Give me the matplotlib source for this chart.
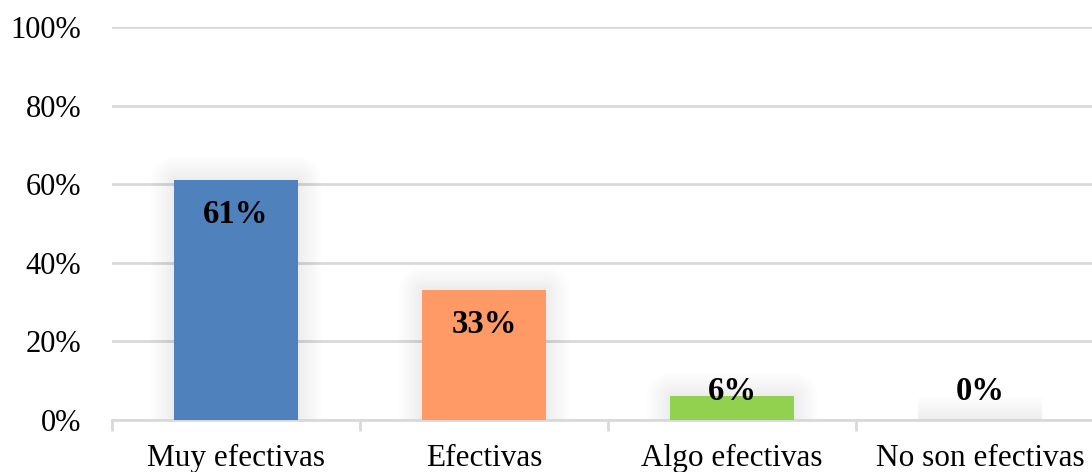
import matplotlib.pyplot as plt
from matplotlib.ticker import FuncFormatter

categories = ["Muy efectivas", "Efectivas", "Algo efectivas", "No son efectivas"]
values = [61, 33, 6, 0]
colors = ["#4F81BD", "#FF9966", "#92D050", "#4F81BD"]

plt.rcParams["font.family"] = ["Liberation Serif", "DejaVu Serif"]

fig = plt.figure(figsize=(10.92, 4.72), dpi=100)
ax = fig.add_axes([112 / 1092, 52 / 472, 992 / 1092, 393 / 472])

x = list(range(len(categories)))

# soft glow around each bar, built from stacked translucent outlines
for lw in [34, 30, 26, 22, 18, 14, 10, 6, 3]:
    ax.bar(x, values, width=0.5, facecolor="none", edgecolor="black",
           linewidth=lw, alpha=0.009, joinstyle="round", zorder=1)

ax.bar(x, values, width=0.5, color=colors, zorder=3)

for xi, v in zip(x, values):
    ax.text(xi, max(v - 8.7, 7.2), f"{v}%", ha="center", va="center",
            fontsize=23.5, fontweight="bold", zorder=4)

ax.set_xlim(-0.5, 3.5)
ax.set_ylim(0, 100)
ax.set_yticks(range(0, 101, 20))
ax.yaxis.set_major_formatter(FuncFormatter(lambda v, _: f"{v:.0f}%"))
ax.grid(axis="y", color="#D9D9D9", linewidth=2, zorder=0)
ax.set_axisbelow(True)

ax.set_xticks(x)
ax.set_xticklabels(categories)
ax.set_xticks([-0.5, 0.5, 1.5, 2.5, 3.5], minor=True)
ax.tick_params(axis="x", which="major", length=0, pad=17, labelsize=22.5)
ax.tick_params(axis="x", which="minor", length=8, width=2, color="#D9D9D9")
ax.tick_params(axis="y", length=0, pad=22, labelsize=22)

for side in ["top", "right", "left"]:
    ax.spines[side].set_visible(False)
ax.spines["bottom"].set_color("#D9D9D9")
ax.spines["bottom"].set_linewidth(2)

fig.savefig("out.png", dpi=100)
